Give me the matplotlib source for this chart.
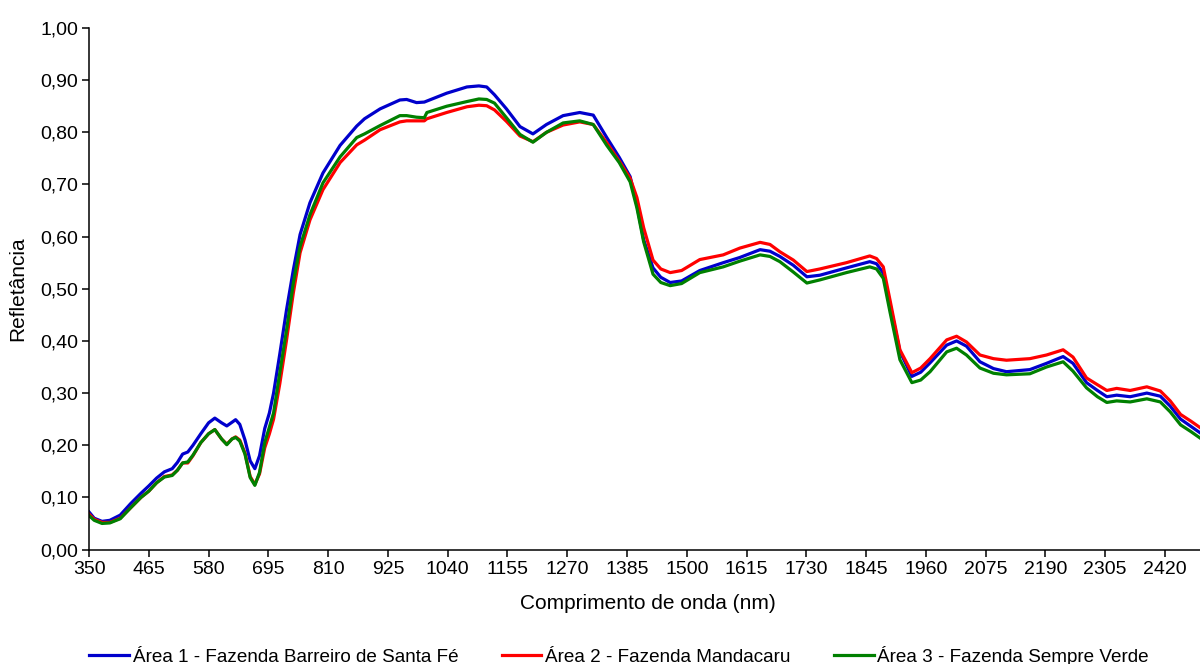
import matplotlib
matplotlib.use("Agg")
from matplotlib import pyplot as plt
from matplotlib.ticker import FuncFormatter
import numpy as np

plt.rcParams['font.family'] = ['Liberation Sans', 'DejaVu Sans']

# comprimento de onda (nm)
wl = [350, 360, 375, 390, 410, 430, 450, 465, 480, 495, 510, 520, 530, 540, 550,
      565, 580, 592, 605, 615, 625, 632, 640, 650, 660, 669, 678, 688, 697, 705,
      717, 730, 743, 756, 775, 800, 833, 865, 880, 910, 948, 961, 980, 995, 1000,
      1038, 1077, 1100, 1115, 1130, 1153, 1179, 1204, 1230, 1262, 1294, 1320, 1346,
      1370, 1391, 1404, 1417, 1435, 1450, 1468, 1490, 1525, 1570, 1602, 1641, 1660,
      1679, 1705, 1731, 1756, 1807, 1852, 1865, 1878, 1891, 1910, 1933, 1950, 1968,
      2000, 2019, 2038, 2064, 2090, 2115, 2160, 2192, 2224, 2243, 2269, 2290, 2308,
      2327, 2353, 2385, 2411, 2430, 2450, 2470, 2500]

area1 = [0.072, 0.060, 0.054, 0.056, 0.066, 0.088, 0.108, 0.122, 0.137, 0.149, 0.155,
         0.167, 0.183, 0.187, 0.200, 0.222, 0.243, 0.252, 0.243, 0.237, 0.244, 0.249,
         0.240, 0.210, 0.170, 0.155, 0.180, 0.232, 0.262, 0.300, 0.375, 0.460, 0.536,
         0.604, 0.665, 0.722, 0.775, 0.812, 0.826, 0.845, 0.862, 0.863, 0.857, 0.858,
         0.860, 0.875, 0.887, 0.889, 0.887, 0.872, 0.845, 0.811, 0.797, 0.815, 0.832,
         0.838, 0.833, 0.790, 0.752, 0.715, 0.660, 0.594, 0.540, 0.522, 0.512, 0.515,
         0.535, 0.550, 0.560, 0.575, 0.572, 0.562, 0.545, 0.523, 0.526, 0.540, 0.552,
         0.548, 0.530, 0.470, 0.380, 0.332, 0.340, 0.358, 0.392, 0.400, 0.390, 0.360,
         0.347, 0.341, 0.345, 0.357, 0.370, 0.357, 0.320, 0.305, 0.293, 0.296, 0.293,
         0.300, 0.294, 0.275, 0.250, 0.236, 0.215]

area2 = [0.068, 0.058, 0.052, 0.052, 0.060, 0.080, 0.100, 0.112, 0.128, 0.140, 0.143,
         0.152, 0.166, 0.166, 0.180, 0.205, 0.222, 0.230, 0.212, 0.202, 0.212, 0.216,
         0.210, 0.185, 0.140, 0.125, 0.145, 0.195, 0.222, 0.250, 0.318, 0.402, 0.492,
         0.569, 0.632, 0.690, 0.742, 0.776, 0.785, 0.805, 0.820, 0.822, 0.822, 0.822,
         0.826, 0.838, 0.849, 0.852, 0.851, 0.843, 0.821, 0.793, 0.782, 0.800, 0.814,
         0.820, 0.815, 0.780, 0.745, 0.712, 0.675, 0.617, 0.555, 0.538, 0.531, 0.535,
         0.556, 0.565, 0.578, 0.589, 0.585, 0.571, 0.555, 0.533, 0.538, 0.550, 0.563,
         0.558, 0.542, 0.478, 0.383, 0.339, 0.348, 0.366, 0.402, 0.409, 0.398, 0.373,
         0.366, 0.363, 0.366, 0.373, 0.383, 0.369, 0.329, 0.316, 0.305, 0.309, 0.305,
         0.312, 0.304, 0.285, 0.259, 0.246, 0.225]

area3 = [0.065, 0.056, 0.050, 0.051, 0.059, 0.080, 0.100, 0.112, 0.128, 0.139, 0.142,
         0.152, 0.166, 0.168, 0.181, 0.205, 0.222, 0.230, 0.212, 0.201, 0.212, 0.215,
         0.208, 0.183, 0.138, 0.123, 0.148, 0.205, 0.235, 0.262, 0.339, 0.421, 0.511,
         0.581, 0.642, 0.703, 0.753, 0.790, 0.797, 0.813, 0.832, 0.832, 0.829, 0.828,
         0.838, 0.850, 0.859, 0.864, 0.863, 0.856, 0.828, 0.796, 0.781, 0.800, 0.818,
         0.822, 0.815, 0.775, 0.742, 0.705, 0.655, 0.590, 0.528, 0.512, 0.506, 0.510,
         0.531, 0.542, 0.553, 0.565, 0.562, 0.552, 0.532, 0.511, 0.517, 0.531, 0.542,
         0.538, 0.520, 0.455, 0.364, 0.320, 0.325, 0.341, 0.379, 0.386, 0.373, 0.348,
         0.338, 0.335, 0.337, 0.350, 0.360, 0.342, 0.310, 0.293, 0.282, 0.285, 0.283,
         0.289, 0.283, 0.264, 0.239, 0.226, 0.205]

labels = ['Área 1 - Fazenda Barreiro de Santa Fé',
          'Área 2 - Fazenda Mandacaru',
          'Área 3 - Fazenda Sempre Verde']
colors = ['#0000CC', '#FF0000', '#008000']
xticks = np.arange(350, 2421, 115)

fig = plt.figure(figsize=(12, 6.64), dpi=100)
ax = fig.add_axes([0.0742, 0.1724, 0.9313, 0.7854])

for serie, lab, cor in zip([area1, area2, area3], labels, colors):
    ax.plot(wl, serie, color=cor, lw=2.3, label=lab, solid_joinstyle='round')

ax.set_xlim(350, 2500)
ax.set_ylim(0, 1.0)
ax.set_xticks(xticks)
ax.set_yticks(np.arange(0, 1.01, 0.1))
ax.yaxis.set_major_formatter(FuncFormatter(lambda v, p: f'{v:.2f}'.replace('.', ',')))
ax.tick_params(labelsize=14, length=5, width=1.1, pad=3, colors='black')
for s in ['top', 'right']:
    ax.spines[s].set_visible(False)
for s in ['left', 'bottom']:
    ax.spines[s].set_linewidth(1.1)

ax.set_xlabel('Comprimento de onda (nm)', fontsize=15)
ax.set_ylabel('Refletância', fontsize=15)
ax.xaxis.set_label_coords(0.5, -0.085)
ax.yaxis.set_label_coords(-0.0555, 0.5)

fig.legend(loc='center', bbox_to_anchor=(0.516, 0.012), ncol=3, frameon=False,
           fontsize=13.6, handlelength=2.1, handletextpad=0.2, columnspacing=2.3)

fig.savefig('out.png', dpi=100)
